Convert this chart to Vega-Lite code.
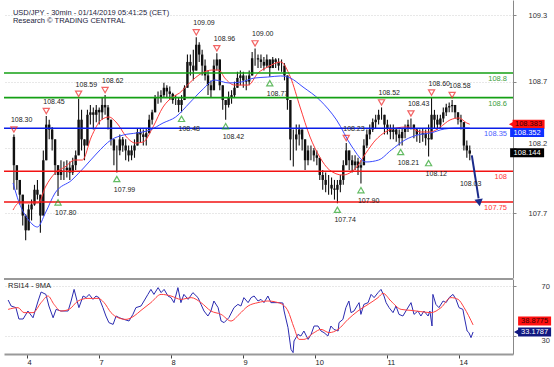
{
"$schema":"https://vega.github.io/schema/vega-lite/v6.json",
"background":"white",
"padding":{"left":3,"top":0,"right":0,"bottom":0},
"spacing":0,
"config":{"view":{"stroke":null},"font":"Liberation Sans"},
"datasets":{
"candles":[
{"x":-6,"o":108.28,"h":108.30,"l":107.85,"c":108.05},{"x":-5,"o":108.05,"h":108.05,"l":107.85,"c":107.93},{"x":-4,"o":107.93,"h":107.93,"l":107.73,"c":107.81},{"x":-3,"o":107.81,"h":107.81,"l":107.56,"c":107.64},{"x":-2,"o":107.64,"h":107.65,"l":107.44,"c":107.52},{"x":-1,"o":107.52,"h":107.73,"l":107.52,"c":107.69},
{"x":0,"o":107.69,"h":107.77,"l":107.60,"c":107.73},{"x":1,"o":107.73,"h":107.89,"l":107.72,"c":107.85},{"x":2,"o":107.85,"h":107.93,"l":107.77,"c":107.81},{"x":3,"o":107.81,"h":107.81,"l":107.50,"c":107.64},{"x":4,"o":107.64,"h":108.17,"l":107.64,"c":108.09},{"x":5,"o":108.09,"h":108.45,"l":108.09,"c":108.38},{"x":6,"o":108.38,"h":108.42,"l":108.26,"c":108.34},{"x":7,"o":108.34,"h":108.36,"l":108.17,"c":108.26},{"x":8,"o":108.26,"h":108.26,"l":107.97,"c":108.05},{"x":9,"o":108.05,"h":108.05,"l":107.80,"c":107.97},
{"x":10,"o":107.97,"h":108.09,"l":107.93,"c":108.01},{"x":11,"o":108.01,"h":108.08,"l":107.93,"c":108.01},{"x":12,"o":108.01,"h":108.09,"l":107.95,"c":108.03},{"x":13,"o":108.03,"h":108.08,"l":107.93,"c":107.99},{"x":14,"o":107.99,"h":108.11,"l":107.97,"c":108.05},{"x":15,"o":108.05,"h":108.17,"l":108.01,"c":108.13},{"x":16,"o":108.13,"h":108.59,"l":108.13,"c":108.42},{"x":17,"o":108.42,"h":108.50,"l":108.17,"c":108.26},{"x":18,"o":108.26,"h":108.26,"l":108.09,"c":108.21},{"x":19,"o":108.21,"h":108.50,"l":108.21,"c":108.46},
{"x":20,"o":108.46,"h":108.54,"l":108.38,"c":108.48},{"x":21,"o":108.48,"h":108.52,"l":108.34,"c":108.46},{"x":22,"o":108.46,"h":108.54,"l":108.40,"c":108.50},{"x":23,"o":108.50,"h":108.52,"l":108.38,"c":108.48},{"x":24,"o":108.48,"h":108.60,"l":108.42,"c":108.54},{"x":25,"o":108.54,"h":108.62,"l":108.46,"c":108.52},{"x":26,"o":108.52,"h":108.54,"l":108.34,"c":108.42},{"x":27,"o":108.42,"h":108.42,"l":108.21,"c":108.26},{"x":28,"o":108.26,"h":108.26,"l":108.05,"c":108.17},{"x":29,"o":108.17,"h":108.21,"l":107.99,"c":108.17},
{"x":30,"o":108.17,"h":108.30,"l":108.13,"c":108.26},{"x":31,"o":108.26,"h":108.28,"l":108.16,"c":108.21},{"x":32,"o":108.21,"h":108.26,"l":108.09,"c":108.17},{"x":33,"o":108.17,"h":108.21,"l":108.08,"c":108.13},{"x":34,"o":108.13,"h":108.21,"l":108.09,"c":108.17},{"x":35,"o":108.17,"h":108.26,"l":108.11,"c":108.21},{"x":36,"o":108.21,"h":108.35,"l":108.21,"c":108.32},{"x":37,"o":108.32,"h":108.35,"l":108.23,"c":108.30},{"x":38,"o":108.30,"h":108.34,"l":108.21,"c":108.28},{"x":39,"o":108.28,"h":108.35,"l":108.21,"c":108.31},
{"x":40,"o":108.31,"h":108.46,"l":108.31,"c":108.42},{"x":41,"o":108.42,"h":108.50,"l":108.38,"c":108.48},{"x":42,"o":108.48,"h":108.62,"l":108.48,"c":108.60},{"x":43,"o":108.60,"h":108.65,"l":108.55,"c":108.60},{"x":44,"o":108.60,"h":108.66,"l":108.56,"c":108.62},{"x":45,"o":108.62,"h":108.72,"l":108.60,"c":108.68},{"x":46,"o":108.68,"h":108.70,"l":108.60,"c":108.65},{"x":47,"o":108.65,"h":108.69,"l":108.58,"c":108.63},{"x":48,"o":108.63,"h":108.64,"l":108.55,"c":108.58},{"x":49,"o":108.58,"h":108.62,"l":108.54,"c":108.58},
{"x":50,"o":108.58,"h":108.60,"l":108.48,"c":108.54},{"x":51,"o":108.54,"h":108.62,"l":108.48,"c":108.58},{"x":52,"o":108.58,"h":108.70,"l":108.58,"c":108.68},{"x":53,"o":108.68,"h":108.95,"l":108.68,"c":108.89},{"x":54,"o":108.89,"h":108.95,"l":108.78,"c":108.86},{"x":55,"o":108.86,"h":108.99,"l":108.74,"c":108.82},{"x":56,"o":108.82,"h":109.09,"l":108.82,"c":109.03},{"x":57,"o":109.03,"h":109.05,"l":108.89,"c":108.95},{"x":58,"o":108.95,"h":108.99,"l":108.78,"c":108.86},{"x":59,"o":108.86,"h":108.91,"l":108.74,"c":108.78},
{"x":60,"o":108.78,"h":108.82,"l":108.62,"c":108.70},{"x":61,"o":108.70,"h":108.74,"l":108.60,"c":108.66},{"x":62,"o":108.66,"h":108.91,"l":108.66,"c":108.86},{"x":63,"o":108.86,"h":108.96,"l":108.82,"c":108.91},{"x":64,"o":108.91,"h":108.91,"l":108.66,"c":108.70},{"x":65,"o":108.70,"h":108.70,"l":108.50,"c":108.58},{"x":66,"o":108.58,"h":108.58,"l":108.42,"c":108.54},{"x":67,"o":108.54,"h":108.65,"l":108.52,"c":108.60},{"x":68,"o":108.60,"h":108.66,"l":108.55,"c":108.62},{"x":69,"o":108.62,"h":108.73,"l":108.60,"c":108.68},
{"x":70,"o":108.68,"h":108.81,"l":108.68,"c":108.76},{"x":71,"o":108.76,"h":108.82,"l":108.70,"c":108.78},{"x":72,"o":108.78,"h":108.81,"l":108.68,"c":108.74},{"x":73,"o":108.74,"h":108.78,"l":108.66,"c":108.73},{"x":74,"o":108.73,"h":108.82,"l":108.70,"c":108.78},{"x":75,"o":108.78,"h":108.97,"l":108.78,"c":108.92},{"x":76,"o":108.92,"h":109.00,"l":108.86,"c":108.92},{"x":77,"o":108.92,"h":108.95,"l":108.84,"c":108.91},{"x":78,"o":108.91,"h":108.95,"l":108.84,"c":108.89},{"x":79,"o":108.89,"h":108.93,"l":108.82,"c":108.86},
{"x":80,"o":108.86,"h":108.95,"l":108.84,"c":108.91},{"x":81,"o":108.91,"h":108.91,"l":108.77,"c":108.84},{"x":82,"o":108.84,"h":108.93,"l":108.84,"c":108.91},{"x":83,"o":108.91,"h":108.92,"l":108.84,"c":108.89},{"x":84,"o":108.89,"h":108.92,"l":108.82,"c":108.86},{"x":85,"o":108.86,"h":108.91,"l":108.81,"c":108.86},{"x":86,"o":108.86,"h":108.88,"l":108.74,"c":108.78},{"x":87,"o":108.78,"h":108.78,"l":108.50,"c":108.58},{"x":88,"o":108.58,"h":108.58,"l":108.09,"c":108.26},{"x":89,"o":108.26,"h":108.34,"l":108.04,"c":108.26},
{"x":90,"o":108.26,"h":108.38,"l":108.17,"c":108.30},{"x":91,"o":108.30,"h":108.38,"l":108.21,"c":108.34},{"x":92,"o":108.34,"h":108.34,"l":108.17,"c":108.26},{"x":93,"o":108.26,"h":108.26,"l":108.01,"c":108.09},{"x":94,"o":108.09,"h":108.21,"l":108.05,"c":108.17},{"x":95,"o":108.17,"h":108.21,"l":108.09,"c":108.17},{"x":96,"o":108.17,"h":108.19,"l":108.08,"c":108.13},{"x":97,"o":108.13,"h":108.17,"l":108.05,"c":108.11},{"x":98,"o":108.11,"h":108.11,"l":107.93,"c":107.97},{"x":99,"o":107.97,"h":108.01,"l":107.85,"c":107.93},
{"x":100,"o":107.93,"h":107.99,"l":107.83,"c":107.89},{"x":101,"o":107.89,"h":107.97,"l":107.81,"c":107.89},{"x":102,"o":107.89,"h":107.95,"l":107.81,"c":107.86},{"x":103,"o":107.86,"h":107.93,"l":107.77,"c":107.85},{"x":104,"o":107.85,"h":107.93,"l":107.74,"c":107.89},{"x":105,"o":107.89,"h":107.97,"l":107.83,"c":107.93},{"x":106,"o":107.93,"h":108.09,"l":107.89,"c":108.05},{"x":107,"o":108.05,"h":108.23,"l":108.05,"c":108.17},{"x":108,"o":108.17,"h":108.17,"l":108.01,"c":108.09},{"x":109,"o":108.09,"h":108.13,"l":107.99,"c":108.05},
{"x":110,"o":108.05,"h":108.13,"l":108.01,"c":108.08},{"x":111,"o":108.08,"h":108.11,"l":107.97,"c":108.03},{"x":112,"o":108.03,"h":108.09,"l":107.90,"c":108.05},{"x":113,"o":108.05,"h":108.26,"l":108.05,"c":108.21},{"x":114,"o":108.21,"h":108.34,"l":108.19,"c":108.30},{"x":115,"o":108.30,"h":108.38,"l":108.26,"c":108.34},{"x":116,"o":108.34,"h":108.43,"l":108.32,"c":108.40},{"x":117,"o":108.40,"h":108.46,"l":108.35,"c":108.42},{"x":118,"o":108.42,"h":108.50,"l":108.38,"c":108.46},{"x":119,"o":108.46,"h":108.52,"l":108.42,"c":108.46},
{"x":120,"o":108.46,"h":108.46,"l":108.30,"c":108.38},{"x":121,"o":108.38,"h":108.42,"l":108.30,"c":108.35},{"x":122,"o":108.35,"h":108.38,"l":108.26,"c":108.32},{"x":123,"o":108.32,"h":108.38,"l":108.26,"c":108.34},{"x":124,"o":108.34,"h":108.35,"l":108.24,"c":108.30},{"x":125,"o":108.30,"h":108.34,"l":108.21,"c":108.27},{"x":126,"o":108.27,"h":108.35,"l":108.21,"c":108.32},{"x":127,"o":108.32,"h":108.38,"l":108.27,"c":108.35},{"x":128,"o":108.35,"h":108.42,"l":108.32,"c":108.38},{"x":129,"o":108.38,"h":108.43,"l":108.34,"c":108.38},
{"x":130,"o":108.38,"h":108.38,"l":108.27,"c":108.34},{"x":131,"o":108.34,"h":108.35,"l":108.24,"c":108.30},{"x":132,"o":108.30,"h":108.34,"l":108.23,"c":108.30},{"x":133,"o":108.30,"h":108.35,"l":108.24,"c":108.31},{"x":134,"o":108.31,"h":108.34,"l":108.21,"c":108.27},{"x":135,"o":108.27,"h":108.38,"l":108.12,"c":108.26},{"x":136,"o":108.26,"h":108.60,"l":108.26,"c":108.46},{"x":137,"o":108.46,"h":108.50,"l":108.35,"c":108.42},{"x":138,"o":108.42,"h":108.46,"l":108.34,"c":108.38},{"x":139,"o":108.38,"h":108.46,"l":108.35,"c":108.43},
{"x":140,"o":108.43,"h":108.52,"l":108.40,"c":108.48},{"x":141,"o":108.48,"h":108.55,"l":108.45,"c":108.52},{"x":142,"o":108.52,"h":108.56,"l":108.48,"c":108.53},{"x":143,"o":108.53,"h":108.58,"l":108.48,"c":108.54},{"x":144,"o":108.54,"h":108.54,"l":108.43,"c":108.48},{"x":145,"o":108.48,"h":108.48,"l":108.38,"c":108.42},{"x":146,"o":108.42,"h":108.46,"l":108.34,"c":108.40},{"x":147,"o":108.40,"h":108.40,"l":108.17,"c":108.21},{"x":148,"o":108.21,"h":108.25,"l":108.11,"c":108.17},{"x":149,"o":108.17,"h":108.21,"l":108.09,"c":108.144}
],
"mafast":[
{"x":-6.3,"p":107.685},{"x":-4.3,"p":107.742},{"x":-1,"p":107.742},{"x":2.3,"p":107.742},{"x":4.7,"p":107.872},{"x":8,"p":107.986},{"x":11.3,"p":108.035},{"x":14.7,"p":108.092},{"x":17.3,"p":108.092},{"x":20.3,"p":108.279},{"x":23.7,"p":108.418},{"x":26.3,"p":108.442},{"x":29,"p":108.393},{"x":32.3,"p":108.279},{"x":35.3,"p":108.23},{"x":38,"p":108.239},{"x":41.3,"p":108.361},{"x":44.7,"p":108.523},{"x":48,"p":108.605},{"x":50.3,"p":108.637},{"x":53.7,"p":108.719},{"x":58,"p":108.8},{"x":61.3,"p":108.824},{"x":63.7,"p":108.824},{"x":65.7,"p":108.759},{"x":69,"p":108.702},{"x":73.7,"p":108.702},{"x":77,"p":108.8},{"x":80.3,"p":108.849},{"x":84.7,"p":108.89},{"x":88,"p":108.767},{"x":91.3,"p":108.523},{"x":94.7,"p":108.279},{"x":98,"p":108.116},{"x":101.3,"p":108.011},{"x":105.7,"p":107.97},{"x":110.3,"p":108.027},{"x":113.7,"p":108.149},{"x":117,"p":108.255},{"x":120.3,"p":108.32},{"x":123.7,"p":108.352},{"x":128,"p":108.361},{"x":132.3,"p":108.32},{"x":135.7,"p":108.32},{"x":139,"p":108.361},{"x":142.3,"p":108.418},{"x":145.3,"p":108.434},{"x":148,"p":108.393},{"x":149,"p":108.383}
],
"maslow":[
{"x":-6.3,"p":107.905},{"x":-4.3,"p":107.75},{"x":-1,"p":107.604},{"x":2,"p":107.547},{"x":4.7,"p":107.661},{"x":8,"p":107.824},{"x":13.7,"p":107.929},{"x":18,"p":108.035},{"x":22.3,"p":108.149},{"x":27,"p":108.255},{"x":31.3,"p":108.296},{"x":35.7,"p":108.312},{"x":40.3,"p":108.336},{"x":44.7,"p":108.393},{"x":49,"p":108.442},{"x":53.7,"p":108.556},{"x":58,"p":108.662},{"x":62.3,"p":108.743},{"x":67,"p":108.719},{"x":71.3,"p":108.727},{"x":75.7,"p":108.759},{"x":80.3,"p":108.767},{"x":84.7,"p":108.776},{"x":88,"p":108.759},{"x":92.3,"p":108.686},{"x":98,"p":108.58},{"x":103.7,"p":108.418},{"x":109,"p":108.198},{"x":113.7,"p":108.076},{"x":118,"p":108.092},{"x":122.3,"p":108.173},{"x":127,"p":108.255},{"x":131.3,"p":108.296},{"x":135.7,"p":108.312},{"x":140.3,"p":108.344},{"x":144.7,"p":108.352},{"x":149,"p":108.352}
],
"levels":[
{"p":108.8,"t":"108.8","k":"res"},{"p":108.6,"t":"108.6","k":"res"},{"p":108.35,"t":"108.35","k":"piv"},{"p":108,"t":"108","k":"sup"},{"p":107.75,"t":"107.75","k":"sup"}
],
"pivots":[
{"x":-6,"p":108.30,"t":"108.30","k":"hi"},{"x":5,"p":108.45,"t":"108.45","k":"hi"},{"x":16,"p":108.59,"t":"108.59","k":"hi"},{"x":25,"p":108.62,"t":"108.62","k":"hi"},{"x":56,"p":109.09,"t":"109.09","k":"hi"},{"x":63,"p":108.96,"t":"108.96","k":"hi"},{"x":76,"p":109.00,"t":"109.00","k":"hi"},{"x":107,"p":108.23,"t":"108.23","k":"hi"},{"x":119,"p":108.52,"t":"108.52","k":"hi"},{"x":129,"p":108.43,"t":"108.43","k":"hi"},{"x":136,"p":108.60,"t":"108.60","k":"hi"},{"x":143,"p":108.58,"t":"108.58","k":"hi"},
{"x":9,"p":107.80,"t":"107.80","k":"lo"},{"x":29,"p":107.99,"t":"107.99","k":"lo"},{"x":51,"p":108.48,"t":"108.48","k":"lo"},{"x":66,"p":108.42,"t":"108.42","k":"lo"},{"x":81,"p":108.77,"t":"108.77","k":"lo"},{"x":104,"p":107.74,"t":"107.74","k":"lo"},{"x":112,"p":107.90,"t":"107.90","k":"lo"},{"x":125.5,"p":108.21,"t":"108.21","k":"lo"},{"x":135,"p":108.12,"t":"108.12","k":"lo"}
],
"arrow":[{"x":149.7,"p":108.13},{"x":152.0,"p":107.78}],
"rsi":[
{"x":-6.3,"r":58.8},{"x":-5.3,"r":54},{"x":-3.7,"r":52.7},{"x":-2.7,"r":43.6},{"x":-1.3,"r":43.6},{"x":0.3,"r":50},{"x":2,"r":44.6},{"x":3.7,"r":58},{"x":4.7,"r":65.2},{"x":6.3,"r":63.3},{"x":7.3,"r":54},{"x":8.7,"r":44.6},{"x":9.7,"r":51.3},{"x":11.3,"r":50},{"x":13.7,"r":50},{"x":14.7,"r":58},{"x":15.7,"r":67.3},{"x":16.7,"r":58},{"x":17.3,"r":52.7},{"x":18.7,"r":62},{"x":19.7,"r":60.7},{"x":20.7,"r":63.3},{"x":22,"r":59.3},{"x":23,"r":62},{"x":24,"r":60.7},{"x":25.3,"r":52.7},{"x":26.3,"r":46},{"x":27.3,"r":40.7},{"x":28.7,"r":39.3},{"x":29.7,"r":46},{"x":30.7,"r":44.7},{"x":32.3,"r":43.3},{"x":34,"r":42},{"x":35.3,"r":47.3},{"x":36.3,"r":52.7},{"x":38,"r":54},{"x":39,"r":58},{"x":40.3,"r":63.3},{"x":41.3,"r":67.3},{"x":42.3,"r":63.3},{"x":43.7,"r":68.7},{"x":44.7,"r":64.7},{"x":45.7,"r":67.3},{"x":47,"r":62},{"x":48,"r":60.7},{"x":49,"r":56.7},{"x":50.3,"r":68.7},{"x":51.3,"r":56.7},{"x":52.3,"r":63.3},{"x":53.7,"r":59.3},{"x":55.3,"r":64.7},{"x":57,"r":60.7},{"x":58,"r":55.3},{"x":59,"r":50},{"x":60.3,"r":46},{"x":61.3,"r":50},{"x":62.3,"r":58},{"x":63.7,"r":52.7},{"x":64.7,"r":42},{"x":65.7,"r":40.7},{"x":67.3,"r":44.7},{"x":69,"r":52.7},{"x":70.3,"r":55.3},{"x":71.3,"r":54},{"x":72.3,"r":60.7},{"x":73.7,"r":56.7},{"x":74.7,"r":60.7},{"x":75.7,"r":62},{"x":77,"r":58},{"x":78,"r":59.3},{"x":79,"r":56.7},{"x":80.3,"r":62},{"x":81.3,"r":56.7},{"x":83.7,"r":56.7},{"x":85.3,"r":56.4},{"x":85.7,"r":50},{"x":87,"r":36.7},{"x":88,"r":19.3},{"x":88.7,"r":16.7},{"x":89,"r":26},{"x":90.3,"r":31.3},{"x":91.3,"r":30},{"x":92.3,"r":34},{"x":93.7,"r":27.3},{"x":94.7,"r":31.3},{"x":95.7,"r":38},{"x":97,"r":38},{"x":98,"r":34},{"x":99,"r":32.7},{"x":100.3,"r":30},{"x":101.3,"r":38},{"x":102.3,"r":35.3},{"x":103.7,"r":34},{"x":104,"r":40.7},{"x":105.3,"r":43.3},{"x":106.3,"r":52.7},{"x":107.3,"r":58},{"x":108,"r":48.7},{"x":109,"r":50},{"x":110.3,"r":55.3},{"x":110.7,"r":56.7},{"x":111.3,"r":47.3},{"x":112.3,"r":55.3},{"x":113.7,"r":56.7},{"x":114.7,"r":63.3},{"x":115.7,"r":60.7},{"x":117,"r":64.7},{"x":118,"r":67.3},{"x":119,"r":62},{"x":119.7,"r":56.7},{"x":120.7,"r":52.7},{"x":122,"r":48.7},{"x":123,"r":54},{"x":124,"r":47.3},{"x":125.3,"r":46},{"x":126.3,"r":50},{"x":128,"r":56.7},{"x":129,"r":47.3},{"x":130.3,"r":50},{"x":131.3,"r":46},{"x":132.3,"r":50},{"x":133.7,"r":46},{"x":134.3,"r":50},{"x":135,"r":38},{"x":135.3,"r":63.3},{"x":136.3,"r":55.3},{"x":137.3,"r":52.7},{"x":138.7,"r":58},{"x":139.7,"r":56.7},{"x":140.7,"r":60.7},{"x":142,"r":63.3},{"x":143,"r":59.3},{"x":144,"r":52.7},{"x":145.3,"r":51.3},{"x":145.7,"r":46},{"x":146.7,"r":34},{"x":147.3,"r":32.7},{"x":148,"r":28.7},{"x":148.7,"r":33.18}
],
"rsima":[
{"x":-6.3,"r":51.3},{"x":-3,"r":52.7},{"x":-1,"r":48.7},{"x":2,"r":48.7},{"x":4.7,"r":56.7},{"x":7,"r":62},{"x":9,"r":55.3},{"x":11.3,"r":50},{"x":14,"r":51.3},{"x":17,"r":58},{"x":20.3,"r":60.1},{"x":23.7,"r":60.1},{"x":25.7,"r":56.7},{"x":28,"r":48.7},{"x":30.3,"r":44.7},{"x":33,"r":43.3},{"x":35.7,"r":46},{"x":38,"r":50.5},{"x":41.3,"r":56.7},{"x":44.7,"r":63.3},{"x":48,"r":62},{"x":51.3,"r":59.3},{"x":54.7,"r":60.7},{"x":58,"r":56.7},{"x":61.3,"r":50},{"x":64.7,"r":47.3},{"x":68,"r":42},{"x":70.7,"r":47.3},{"x":73.7,"r":54},{"x":77,"r":56.7},{"x":80.3,"r":58},{"x":83.7,"r":56.7},{"x":84.7,"r":55.9},{"x":87,"r":50},{"x":89,"r":36.7},{"x":90.7,"r":27.3},{"x":92.3,"r":27.3},{"x":95.7,"r":32.7},{"x":98,"r":35.3},{"x":100.7,"r":32.7},{"x":103.7,"r":35.3},{"x":107,"r":43.3},{"x":110.3,"r":50},{"x":113.7,"r":55.3},{"x":117,"r":60.7},{"x":118.7,"r":64.1},{"x":121.3,"r":58},{"x":124.7,"r":51.3},{"x":128,"r":50.5},{"x":131.3,"r":49.5},{"x":134.7,"r":48.7},{"x":138,"r":52.7},{"x":141.3,"r":60.7},{"x":143.7,"r":59.3},{"x":145.7,"r":52.7},{"x":148.7,"r":38.88}
]
},
"vconcat":[
{
"width":509,"height":278,
"layer":[
{"data":{"name":"candles"},"mark":{"type":"rule","color":"#111","strokeWidth":1.1},
 "encoding":{"x":{"field":"x","type":"quantitative","scale":{"domain":[-7.67,162],"nice":false,"zero":false},"axis":null},
 "y":{"field":"l","type":"quantitative","scale":{"domain":[107.132,109.394],"nice":false,"zero":false},
  "axis":{"orient":"right","values":[107.66,108.19,108.73,109.27],"labelExpr":"format(datum.value,'.1f')","title":null,"domainColor":"#888","tickColor":"#888","tickSize":3,"labelPadding":12,"labelFontSize":7.5,"labelColor":"#333","labelBaseline":{"condition":{"test":"datum.value == 108.19","value":"bottom"},"value":"middle"},"grid":true,"gridColor":"#d0d0d0","gridDash":[1,2]}},"y2":{"field":"h"}}},
{"data":{"name":"candles"},"mark":{"type":"bar","color":"#111","width":2.4},
 "encoding":{"x":{"field":"x","type":"quantitative","scale":{"domain":[-7.67,162],"nice":false,"zero":false},"axis":null},
 "y":{"field":"o","type":"quantitative","scale":{"domain":[107.132,109.394],"nice":false,"zero":false},"title":null},"y2":{"field":"c"}}},
{"data":{"values":[{}]},"mark":{"type":"text","align":"left","baseline":"middle","fontSize":7.5,"color":"#1c1c3c"},
 "encoding":{"x":{"datum":-6.33,"type":"quantitative","scale":{"domain":[-7.67,162],"nice":false,"zero":false},"axis":null},
 "y":{"datum":109.292,"type":"quantitative","scale":{"domain":[107.132,109.394],"nice":false,"zero":false},"title":null},
 "text":{"value":"USD/JPY - 30min - 01/14/2019 05:41:25 (CET)"}}},
{"data":{"values":[{}]},"mark":{"type":"text","align":"left","baseline":"middle","fontSize":7.5,"color":"#1c1c3c"},
 "encoding":{"x":{"datum":-6.33,"type":"quantitative","scale":{"domain":[-7.67,162],"nice":false,"zero":false},"axis":null},
 "y":{"datum":109.223,"type":"quantitative","scale":{"domain":[107.132,109.394],"nice":false,"zero":false},"title":null},
 "text":{"value":"Research © TRADING CENTRAL"}}},
{"data":{"name":"mafast"},"mark":{"type":"line","color":"#ff3b3b","strokeWidth":1,"interpolate":"monotone"},
 "encoding":{"x":{"field":"x","type":"quantitative","scale":{"domain":[-7.67,162],"nice":false,"zero":false},"axis":null},
 "y":{"field":"p","type":"quantitative","scale":{"domain":[107.132,109.394],"nice":false,"zero":false},"title":null}}},
{"data":{"name":"maslow"},"mark":{"type":"line","color":"#3b4bff","strokeWidth":1,"interpolate":"monotone"},
 "encoding":{"x":{"field":"x","type":"quantitative","scale":{"domain":[-7.67,162],"nice":false,"zero":false},"axis":null},
 "y":{"field":"p","type":"quantitative","scale":{"domain":[107.132,109.394],"nice":false,"zero":false},"title":null}}},
{"data":{"name":"levels"},"mark":{"type":"rule","strokeWidth":1.6},
 "encoding":{"y":{"field":"p","type":"quantitative","scale":{"domain":[107.132,109.394],"nice":false,"zero":false},"title":null},
 "color":{"field":"k","type":"nominal","scale":{"domain":["res","piv","sup"],"range":["#14a014","#0b1ee8","#f21212"]},"legend":null}}},
{"data":{"name":"levels"},"mark":{"type":"text","align":"right","baseline":"top","dy":2,"dx":-1,"fontSize":7.5},
 "encoding":{"x":{"datum":162,"type":"quantitative","scale":{"domain":[-7.67,162],"nice":false,"zero":false},"axis":null},
 "y":{"field":"p","type":"quantitative","scale":{"domain":[107.132,109.394],"nice":false,"zero":false},"title":null},
 "text":{"field":"t"},
 "fill":{"field":"k","type":"nominal","scale":{"domain":["res","piv","sup"],"range":["#3c9e3c","#4a5cff","#ff3535"]},"legend":null}}},
{"data":{"name":"pivots"},"transform":[{"filter":"datum.k=='hi'"}],"mark":{"type":"point","shape":"triangle-down","filled":false,"color":"#ee2222","strokeWidth":1.2,"size":38,"yOffset":-5},
 "encoding":{"x":{"field":"x","type":"quantitative","scale":{"domain":[-7.67,162],"nice":false,"zero":false},"axis":null},
 "y":{"field":"p","type":"quantitative","scale":{"domain":[107.132,109.394],"nice":false,"zero":false},"title":null}}},
{"data":{"name":"pivots"},"transform":[{"filter":"datum.k=='hi'"}],"mark":{"type":"text","align":"left","baseline":"middle","dx":-3,"dy":-14,"fontSize":7,"color":"#222"},
 "encoding":{"x":{"field":"x","type":"quantitative","scale":{"domain":[-7.67,162],"nice":false,"zero":false},"axis":null},
 "y":{"field":"p","type":"quantitative","scale":{"domain":[107.132,109.394],"nice":false,"zero":false},"title":null},"text":{"field":"t"}}},
{"data":{"name":"pivots"},"transform":[{"filter":"datum.k=='lo'"}],"mark":{"type":"point","shape":"triangle-up","filled":false,"color":"#22a022","strokeWidth":1.2,"size":38,"yOffset":6.5},
 "encoding":{"x":{"field":"x","type":"quantitative","scale":{"domain":[-7.67,162],"nice":false,"zero":false},"axis":null},
 "y":{"field":"p","type":"quantitative","scale":{"domain":[107.132,109.394],"nice":false,"zero":false},"title":null}}},
{"data":{"name":"pivots"},"transform":[{"filter":"datum.k=='lo'"}],"mark":{"type":"text","align":"left","baseline":"middle","dx":-3,"dy":17,"fontSize":7,"color":"#222"},
 "encoding":{"x":{"field":"x","type":"quantitative","scale":{"domain":[-7.67,162],"nice":false,"zero":false},"axis":null},
 "y":{"field":"p","type":"quantitative","scale":{"domain":[107.132,109.394],"nice":false,"zero":false},"title":null},"text":{"field":"t"}}},
{"data":{"name":"arrow"},"mark":{"type":"line","color":"#1a2a8a","strokeWidth":2},
 "encoding":{"x":{"field":"x","type":"quantitative","scale":{"domain":[-7.67,162],"nice":false,"zero":false},"axis":null},
 "y":{"field":"p","type":"quantitative","scale":{"domain":[107.132,109.394],"nice":false,"zero":false},"title":null}}},
{"data":{"values":[{}]},"mark":{"type":"point","shape":"triangle-down","filled":true,"color":"#1a2a8a","opacity":1,"size":70,"angle":351},
 "encoding":{"x":{"datum":152.2,"type":"quantitative","scale":{"domain":[-7.67,162],"nice":false,"zero":false},"axis":null},
 "y":{"datum":107.745,"type":"quantitative","scale":{"domain":[107.132,109.394],"nice":false,"zero":false},"title":null}}},
{"data":{"values":[{}]},"mark":{"type":"text","align":"center","baseline":"middle","fontSize":7,"color":"#222"},
 "encoding":{"x":{"datum":149.3,"type":"quantitative","scale":{"domain":[-7.67,162],"nice":false,"zero":false},"axis":null},
 "y":{"datum":107.897,"type":"quantitative","scale":{"domain":[107.132,109.394],"nice":false,"zero":false},"title":null},"text":{"value":"108.03"}}},
{"data":{"values":[{}]},"mark":{"type":"tick","orient":"horizontal","size":32,"thickness":9,"color":"#ff1010","opacity":1},
 "encoding":{"x":{"datum":169,"type":"quantitative","scale":{"domain":[-7.67,162],"nice":false,"zero":false},"axis":null},
 "y":{"datum":108.383,"type":"quantitative","scale":{"domain":[107.132,109.394],"nice":false,"zero":false},"title":null}}},
{"data":{"values":[{}]},"mark":{"type":"point","shape":"triangle-left","filled":true,"color":"#ff1010","opacity":1,"size":45},
 "encoding":{"x":{"datum":163.3,"type":"quantitative","scale":{"domain":[-7.67,162],"nice":false,"zero":false},"axis":null},
 "y":{"datum":108.383,"type":"quantitative","scale":{"domain":[107.132,109.394],"nice":false,"zero":false},"title":null}}},
{"data":{"values":[{}]},"mark":{"type":"text","align":"center","baseline":"middle","fontSize":7.5,"color":"#3a0000"},
 "encoding":{"x":{"datum":169,"type":"quantitative","scale":{"domain":[-7.67,162],"nice":false,"zero":false},"axis":null},
 "y":{"datum":108.383,"type":"quantitative","scale":{"domain":[107.132,109.394],"nice":false,"zero":false},"title":null},"text":{"value":"108.383"}}},
{"data":{"values":[{}]},"mark":{"type":"tick","orient":"horizontal","size":34,"thickness":9,"color":"#1030ff","opacity":1,"yOffset":4.5},
 "encoding":{"x":{"datum":168.5,"type":"quantitative","scale":{"domain":[-7.67,162],"nice":false,"zero":false},"axis":null},
 "y":{"datum":108.352,"type":"quantitative","scale":{"domain":[107.132,109.394],"nice":false,"zero":false},"title":null}}},
{"data":{"values":[{}]},"mark":{"type":"text","align":"center","baseline":"middle","fontSize":7.5,"color":"white","dy":4.5},
 "encoding":{"x":{"datum":168.5,"type":"quantitative","scale":{"domain":[-7.67,162],"nice":false,"zero":false},"axis":null},
 "y":{"datum":108.352,"type":"quantitative","scale":{"domain":[107.132,109.394],"nice":false,"zero":false},"title":null},"text":{"value":"108.352"}}},
{"data":{"values":[{}]},"mark":{"type":"tick","orient":"horizontal","size":34,"thickness":9,"color":"#000","opacity":1,"yOffset":-1},
 "encoding":{"x":{"datum":168.5,"type":"quantitative","scale":{"domain":[-7.67,162],"nice":false,"zero":false},"axis":null},
 "y":{"datum":108.144,"type":"quantitative","scale":{"domain":[107.132,109.394],"nice":false,"zero":false},"title":null}}},
{"data":{"values":[{}]},"mark":{"type":"text","align":"center","baseline":"middle","fontSize":7.5,"color":"white","dy":-1},
 "encoding":{"x":{"datum":168.5,"type":"quantitative","scale":{"domain":[-7.67,162],"nice":false,"zero":false},"axis":null},
 "y":{"datum":108.144,"type":"quantitative","scale":{"domain":[107.132,109.394],"nice":false,"zero":false},"title":null},"text":{"value":"108.144"}}}
]
},
{
"width":509,"height":75,
"layer":[
{"data":{"name":"rsi"},"mark":{"type":"line","color":"#2b2bb0","strokeWidth":1},
 "encoding":{"x":{"field":"x","type":"quantitative","scale":{"domain":[-7.67,162],"nice":false,"zero":false},
  "axis":{"values":[0,24,48,72,96,120,144],"labelExpr":"['4','7','8','9','10','11','14'][round(datum.value/24)]","title":null,"grid":false,"domainColor":"#999","domainWidth":2,"tickColor":"#444","tickSize":4,"labelAlign":"left","labelBaseline":"top","labelPadding":0,"labelDx":2,"labelFontSize":7.5,"labelColor":"#222"}},
 "y":{"field":"r","type":"quantitative","scale":{"domain":[15.6,75.6],"nice":false,"zero":false},
  "axis":{"orient":"right","values":[30,50,70],"title":null,"grid":true,"gridColor":"#d0d0d0","gridDash":[1,2],"domainColor":"#888","tickColor":"#888","tickSize":3,"labelPadding":25,"labelFontSize":7.5,"labelColor":"#333","labelBaseline":{"condition":{"test":"datum.value == 30","value":"top"},"value":"middle"}}}}},
{"data":{"name":"rsima"},"mark":{"type":"line","color":"#ff4040","strokeWidth":1,"interpolate":"monotone"},
 "encoding":{"x":{"field":"x","type":"quantitative","scale":{"domain":[-7.67,162],"nice":false,"zero":false},"title":null},
 "y":{"field":"r","type":"quantitative","scale":{"domain":[15.6,75.6],"nice":false,"zero":false},"title":null}}},
{"data":{"values":[{}]},"mark":{"type":"rule","color":"#999","strokeWidth":2},
 "encoding":{"y":{"datum":75.6,"type":"quantitative","scale":{"domain":[15.6,75.6],"nice":false,"zero":false},"title":null}}},
{"data":{"values":[{}]},"mark":{"type":"text","align":"left","baseline":"middle","fontSize":7.5,"color":"#222"},
 "encoding":{"x":{"datum":-6.33,"type":"quantitative","scale":{"domain":[-7.67,162],"nice":false,"zero":false},"title":null},
 "y":{"datum":70.4,"type":"quantitative","scale":{"domain":[15.6,75.6],"nice":false,"zero":false},"title":null},"text":{"value":"RSI14 - 9MA"}}},
{"data":{"values":[{}]},"mark":{"type":"tick","orient":"horizontal","size":33,"thickness":9,"color":"#ff1010","opacity":1,"yOffset":-4},
 "encoding":{"x":{"datum":169.2,"type":"quantitative","scale":{"domain":[-7.67,162],"nice":false,"zero":false},"title":null},
 "y":{"datum":38.8775,"type":"quantitative","scale":{"domain":[15.6,75.6],"nice":false,"zero":false},"title":null}}},
{"data":{"values":[{}]},"mark":{"type":"text","align":"center","baseline":"middle","fontSize":7.5,"color":"#3a0000","dy":-4},
 "encoding":{"x":{"datum":169.2,"type":"quantitative","scale":{"domain":[-7.67,162],"nice":false,"zero":false},"title":null},
 "y":{"datum":38.8775,"type":"quantitative","scale":{"domain":[15.6,75.6],"nice":false,"zero":false},"title":null},"text":{"value":"38.8775"}}},
{"data":{"values":[{}]},"mark":{"type":"tick","orient":"horizontal","size":33,"thickness":9,"color":"#101880","opacity":1},
 "encoding":{"x":{"datum":169.2,"type":"quantitative","scale":{"domain":[-7.67,162],"nice":false,"zero":false},"title":null},
 "y":{"datum":33.1787,"type":"quantitative","scale":{"domain":[15.6,75.6],"nice":false,"zero":false},"title":null}}},
{"data":{"values":[{}]},"mark":{"type":"point","shape":"triangle-left","filled":true,"color":"#101880","opacity":1,"size":45},
 "encoding":{"x":{"datum":163.3,"type":"quantitative","scale":{"domain":[-7.67,162],"nice":false,"zero":false},"title":null},
 "y":{"datum":33.1787,"type":"quantitative","scale":{"domain":[15.6,75.6],"nice":false,"zero":false},"title":null}}},
{"data":{"values":[{}]},"mark":{"type":"text","align":"center","baseline":"middle","fontSize":7.5,"color":"white"},
 "encoding":{"x":{"datum":169.2,"type":"quantitative","scale":{"domain":[-7.67,162],"nice":false,"zero":false},"title":null},
 "y":{"datum":33.1787,"type":"quantitative","scale":{"domain":[15.6,75.6],"nice":false,"zero":false},"title":null},"text":{"value":"33.1787"}}}
]
}
]
}
